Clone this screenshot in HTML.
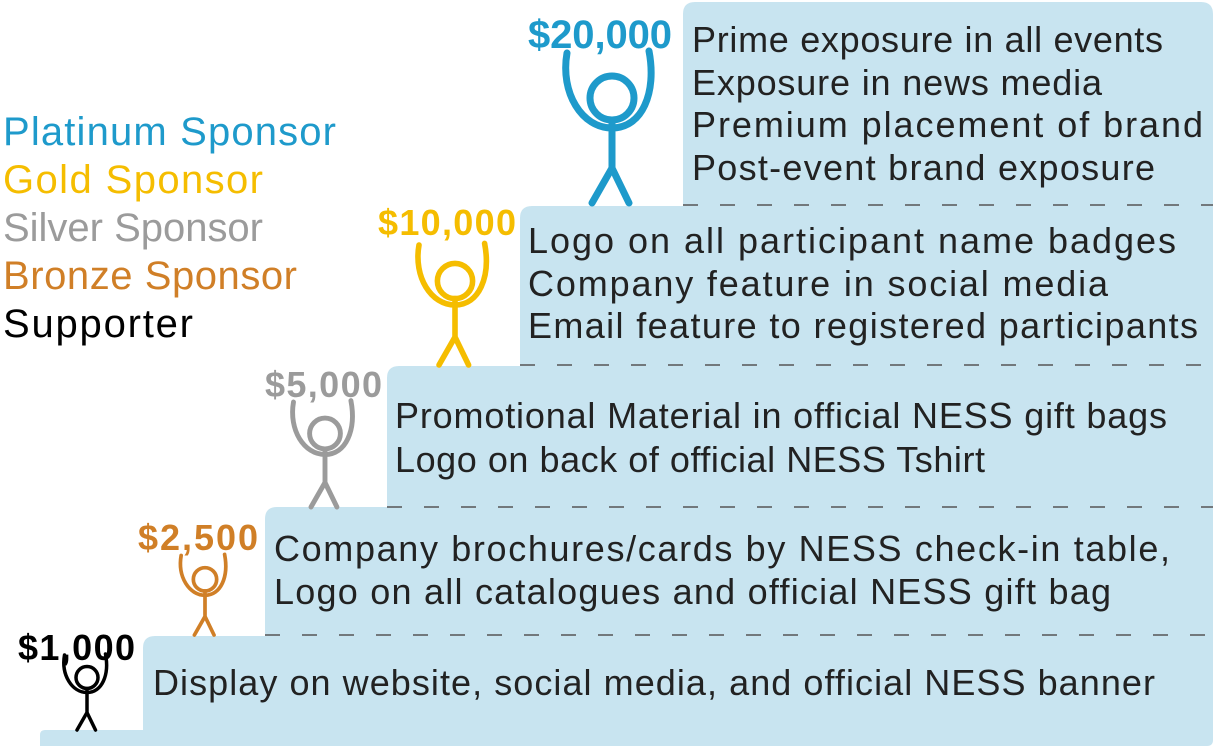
<!DOCTYPE html>
<html><head><meta charset="utf-8"><style>
html,body{margin:0;padding:0;background:#fff;width:1218px;height:746px;overflow:hidden}
svg{display:block}
text{font-family:"Liberation Sans",sans-serif}
</style></head><body>
<svg width="1218" height="746" viewBox="0 0 1218 746">
<defs>
<g id="fig">
<path d="M-45,-150 C-52,-110 -30,-75 0,-75 C30,-75 45,-110 37,-152" fill="none" stroke-linecap="round"/>
<circle cx="0" cy="-105" r="22" fill="none"/>
<path d="M0,-83 L0,-35 M0,-35 L-20,0 M0,-35 L17,0" fill="none" stroke-linecap="round"/>
</g>
</defs>
<path fill="#c8e4f0" d="M40,746 L40,735 Q40,730 45,730 L143,730 L143,648 Q143,636 155,636 L265,636 L265,519 Q265,507 277,507 L387,507 L387,378 Q387,366 399,366 L520,366 L520,218 Q520,206 532,206 L683,206 L683,14 Q683,2 695,2 L1201,2 Q1213,2 1213,14 L1213,740 Q1213,746 1207,746 Z"/>
<g stroke="#555" stroke-width="1.5" stroke-dasharray="15 22">
<line x1="683" y1="205" x2="1213" y2="205"/>
<line x1="520" y1="365" x2="1213" y2="365"/>
<line x1="387" y1="507" x2="1213" y2="507"/>
<line x1="265" y1="635" x2="1213" y2="635"/>
</g>
<g font-size="40">
<text x="3" y="145" fill="#1e9acb" textLength="333">Platinum Sponsor</text>
<text x="3" y="193" fill="#f5bd00" textLength="260">Gold Sponsor</text>
<text x="3" y="241" fill="#9b9b9b" textLength="260">Silver Sponsor</text>
<text x="3" y="289" fill="#d07f27" textLength="294">Bronze Sponsor</text>
<text x="3" y="337" fill="#000" textLength="190">Supporter</text>
</g>
<g>
<use href="#fig" transform="translate(612,203) scale(1)" stroke="#1e9acb" stroke-width="7"/>
<use href="#fig" transform="translate(455,365) scale(0.8)" stroke="#f5bd00" stroke-width="7"/>
<use href="#fig" transform="translate(325,507) scale(0.7)" stroke="#9b9b9b" stroke-width="7"/>
<use href="#fig" transform="translate(205,635) scale(0.53)" stroke="#d07f27" stroke-width="7"/>
<use href="#fig" transform="translate(87,730) scale(0.5)" stroke="#000" stroke-width="7"/>
</g>
<g font-weight="bold">
<text x="528" y="48" font-size="40" fill="#1e9acb" textLength="144">$20,000</text>
<text x="378" y="235" font-size="36" fill="#f5bd00" textLength="138">$10,000</text>
<text x="265" y="397" font-size="36" fill="#9b9b9b" textLength="117">$5,000</text>
<text x="138" y="550" font-size="36" fill="#d07f27" textLength="120">$2,500</text>
<text x="18" y="660" font-size="36" fill="#000" textLength="117">$1,000</text>
</g>
<g font-size="36" fill="#222">
<text x="692" y="52" textLength="471">Prime exposure in all events</text>
<text x="692" y="95" textLength="410">Exposure in news media</text>
<text x="692" y="137" textLength="511">Premium placement of brand</text>
<text x="692" y="180" textLength="463">Post-event brand exposure</text>
<text x="528" y="253" textLength="648">Logo on all participant name badges</text>
<text x="528" y="296" textLength="580">Company feature in social media</text>
<text x="528" y="338" textLength="670">Email feature to registered participants</text>
<text x="395" y="428" textLength="772">Promotional Material in official NESS gift bags</text>
<text x="395" y="472" textLength="590">Logo on back of official NESS Tshirt</text>
<text x="274" y="561" textLength="896">Company brochures/cards by NESS check-in table,</text>
<text x="274" y="604" textLength="837">Logo on all catalogues and official NESS gift bag</text>
<text x="153" y="695" textLength="1002">Display on website, social media, and official NESS banner</text>
</g>
</svg>
</body></html>
